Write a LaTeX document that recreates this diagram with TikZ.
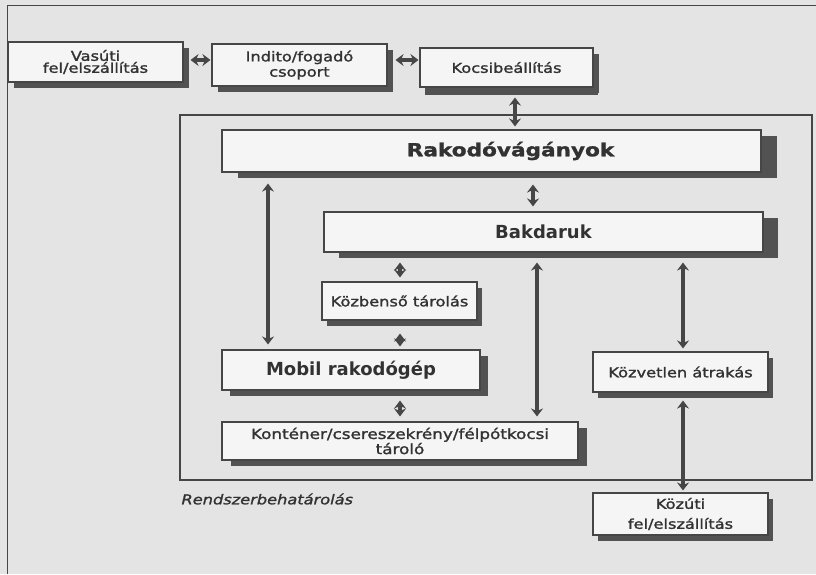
\documentclass[tikz,border=0pt]{standalone}
\usepackage{fontspec}
\setmainfont{DejaVu Sans}
\newfontfamily\lblfont[FakeStretch=1.2,FakeBold=1.5]{DejaVu Sans}
\usetikzlibrary{arrows.meta,shadows}

\definecolor{bgc}{RGB}{228,228,228}
\definecolor{boxc}{RGB}{245,245,245}
\definecolor{linec}{RGB}{70,70,70}
\definecolor{shadc}{RGB}{82,82,82}
\definecolor{txtc}{RGB}{50,50,50}

\tikzset{
	box/.style={draw=linec, line width=1.1pt, fill=boxc, inner sep=0pt, text=txtc, align=center,
		font=\lblfont\fontsize{13.5}{12}\selectfont,
		drop shadow={shadow xshift=#1, shadow yshift=-6pt, fill=shadc, opacity=1}},
	box/.default=6pt,
	bigtext/.style={font=\bfseries\fontsize{18}{20}\selectfont},
	biarrow/.style={line width=3.5pt, draw=linec, {Stealth[length=8pt,width=12pt]}-{Stealth[length=8pt,width=12pt]}},
}

\begin{document}
\begin{tikzpicture}[x=1pt,y=-1pt]
	\fill[bgc] (0,0) rectangle (816,574);
	\useasboundingbox (0,0) rectangle (816,574);
	\draw[linec,line width=1pt] (7,574) -- (7,5) -- (816,5);
	% system boundary
	\draw[linec,line width=1.3pt] (180,115) rectangle (812,480);
	\node[anchor=west,text=txtc,font=\lblfont\itshape\fontsize{13.5}{14}\selectfont] (grenze) at (178,499) {Rendszerbehatárolás};

	\node[box,minimum width=175pt,minimum height=40pt] (vas) at (95.5,62) {Vasúti\\fel/elszállítás};
	\node[box,minimum width=175pt,minimum height=42pt] (ind) at (299.5,65) {Indito/fogadó\\[2pt]csoport};
	\node[box,minimum width=173pt,minimum height=39pt,drop shadow={shadow xshift=5pt,shadow yshift=-8pt,fill=shadc,opacity=1}] (koc) at (506.5,67.5) {Kocsibeállítás};

	\node[box=16pt,minimum width=539pt,minimum height=42pt,font=\lblfont\bfseries\fontsize{18}{20}\selectfont] (rak) at (491.5,151) {\hspace*{38pt}Rakodóvágányok};
	\node[box=15pt,bigtext,minimum width=439pt,minimum height=40pt] (bak) at (543.5,232) {Bakdaruk};
	\node[box=5pt,minimum width=155pt,minimum height=38pt] (kozb) at (399.5,301) {Közbenső tárolás};
	\node[box=8pt,bigtext,minimum width=258pt,minimum height=40pt] (mob) at (351,370) {Mobil rakodógép};
	\node[box=9pt,minimum width=356pt,minimum height=38pt,font=\lblfont\fontsize{14}{14}\selectfont] (kont) at (400,441) {Konténer/csereszekrény/félpótkocsi\\tároló};
	\node[box=5pt,minimum width=175pt,minimum height=40pt] (kozv) at (680.5,372) {Közvetlen átrakás};
	\node[box=5pt,minimum width=175pt,minimum height=42pt,font=\lblfont\fontsize{13.5}{20}\selectfont] (kozu) at (680.5,514) {Közúti\\fel/elszállítás};

	\draw[biarrow,shorten <=7pt,shorten >=1pt] (vas.east |- 0,60) -- (ind.west |- 0,60);
	\draw[biarrow,shorten <=8pt,shorten >=1pt] (ind.east |- 0,60) -- (koc.west |- 0,60);
	\draw[biarrow,shorten <=10pt,shorten >=3pt] (koc.south -| 515,0) -- (rak.north -| 515,0);
	\draw[biarrow,shorten <=12pt,shorten >=5pt] (rak.south -| 533,0) -- (bak.north -| 533,0);
	\draw[biarrow,shorten <=10pt,shorten >=4pt] (bak.south -| 400,0) -- (kozb.north -| 400,0);
	\draw[biarrow,shorten <=13pt,shorten >=3pt] (kozb.south -| 400,0) -- (mob.north -| 400,0);
	\draw[biarrow,shorten <=10pt,shorten >=5pt] (mob.south -| 400,0) -- (kont.north -| 400,0);
	\draw[biarrow,shorten <=11pt,shorten >=5pt] (rak.south -| 268,0) -- (mob.north -| 268,0);
	\draw[biarrow,shorten <=10pt,shorten >=5pt] (bak.south -| 537,0) -- (kont.north -| 537,0);
	\draw[biarrow,shorten <=10pt,shorten >=3pt] (bak.south -| 683,0) -- (kozv.north -| 683,0);
	\draw[biarrow,shorten <=8pt,shorten >=2pt] (kozv.south -| 683,0) -- (kozu.north -| 683,0);
\end{tikzpicture}
\end{document}
